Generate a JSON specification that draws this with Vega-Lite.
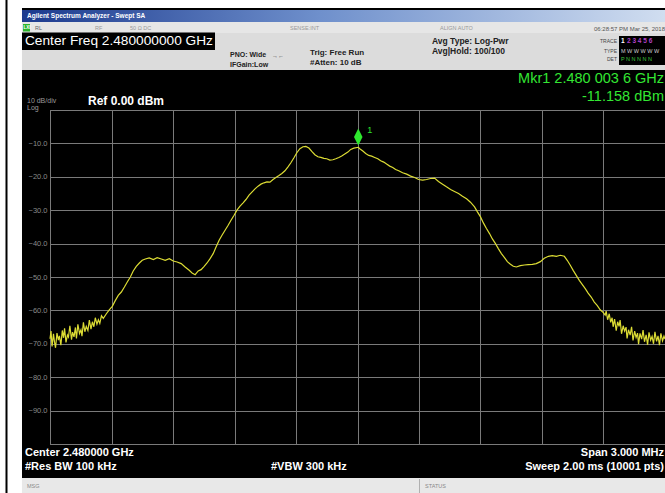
{
  "$schema": "https://vega.github.io/schema/vega-lite/v6.json",
  "width": 615,
  "height": 334,
  "autosize": {"type": "none"},
  "padding": {"left": 50, "top": 110, "right": 0, "bottom": 49},
  "background": "#000000",
  "config": {"view": {"stroke": "#8c8c8c", "strokeWidth": 1}, "font": "Liberation Sans"},
  "resolve": {"axis": {"x": "independent", "y": "independent"}},
  "datasets": {
    "trace": [
      {"f":2478.500,"dbm":-68.5},{"f":2478.505,"dbm":-66.2},{"f":2478.510,"dbm":-70.8},{"f":2478.517,"dbm":-67.0},{"f":2478.522,"dbm":-69.5},{"f":2478.527,"dbm":-71.2},{"f":2478.534,"dbm":-66.8},{"f":2478.541,"dbm":-68.9},{"f":2478.546,"dbm":-67.6},{"f":2478.553,"dbm":-70.4},{"f":2478.560,"dbm":-66.0},{"f":2478.566,"dbm":-68.2},{"f":2478.571,"dbm":-65.4},{"f":2478.578,"dbm":-69.6},{"f":2478.585,"dbm":-67.4},{"f":2478.590,"dbm":-68.0},{"f":2478.597,"dbm":-64.6},{"f":2478.605,"dbm":-68.8},{"f":2478.610,"dbm":-66.5},{"f":2478.617,"dbm":-67.9},{"f":2478.624,"dbm":-65.1},{"f":2478.629,"dbm":-68.4},{"f":2478.636,"dbm":-64.2},{"f":2478.644,"dbm":-66.9},{"f":2478.651,"dbm":-65.8},{"f":2478.656,"dbm":-67.7},{"f":2478.663,"dbm":-63.6},{"f":2478.670,"dbm":-66.4},{"f":2478.677,"dbm":-64.8},{"f":2478.685,"dbm":-66.0},{"f":2478.692,"dbm":-62.9},{"f":2478.700,"dbm":-65.6},{"f":2478.707,"dbm":-63.4},{"f":2478.714,"dbm":-64.9},{"f":2478.721,"dbm":-62.2},{"f":2478.729,"dbm":-64.1},{"f":2478.736,"dbm":-62.8},{"f":2478.743,"dbm":-63.9},{"f":2478.751,"dbm":-61.6},{"f":2478.760,"dbm":-62.4},{"f":2478.775,"dbm":-61.0},{"f":2478.790,"dbm":-59.8},{"f":2478.804,"dbm":-58.8},{"f":2478.819,"dbm":-57.0},{"f":2478.833,"dbm":-55.5},{"f":2478.848,"dbm":-54.5},{"f":2478.863,"dbm":-53.0},{"f":2478.877,"dbm":-51.5},{"f":2478.892,"dbm":-50.0},{"f":2478.906,"dbm":-48.2},{"f":2478.921,"dbm":-46.8},{"f":2478.936,"dbm":-45.8},{"f":2478.950,"dbm":-45.0},{"f":2478.965,"dbm":-44.6},{"f":2478.984,"dbm":-44.3},{"f":2479.004,"dbm":-44.8},{"f":2479.023,"dbm":-44.2},{"f":2479.043,"dbm":-44.6},{"f":2479.062,"dbm":-45.0},{"f":2479.082,"dbm":-44.5},{"f":2479.101,"dbm":-45.2},{"f":2479.120,"dbm":-45.5},{"f":2479.140,"dbm":-46.0},{"f":2479.159,"dbm":-47.0},{"f":2479.179,"dbm":-48.0},{"f":2479.193,"dbm":-48.8},{"f":2479.208,"dbm":-49.3},{"f":2479.223,"dbm":-48.2},{"f":2479.237,"dbm":-47.8},{"f":2479.252,"dbm":-46.8},{"f":2479.266,"dbm":-45.8},{"f":2479.281,"dbm":-44.5},{"f":2479.296,"dbm":-43.0},{"f":2479.310,"dbm":-41.0},{"f":2479.325,"dbm":-39.0},{"f":2479.339,"dbm":-37.5},{"f":2479.354,"dbm":-36.0},{"f":2479.369,"dbm":-34.5},{"f":2479.383,"dbm":-33.0},{"f":2479.398,"dbm":-31.5},{"f":2479.412,"dbm":-30.0},{"f":2479.427,"dbm":-28.8},{"f":2479.442,"dbm":-27.8},{"f":2479.456,"dbm":-26.8},{"f":2479.471,"dbm":-25.5},{"f":2479.485,"dbm":-24.6},{"f":2479.500,"dbm":-23.6},{"f":2479.515,"dbm":-22.8},{"f":2479.529,"dbm":-22.2},{"f":2479.544,"dbm":-21.8},{"f":2479.558,"dbm":-21.5},{"f":2479.573,"dbm":-21.6},{"f":2479.588,"dbm":-20.8},{"f":2479.602,"dbm":-20.2},{"f":2479.617,"dbm":-19.6},{"f":2479.631,"dbm":-19.0},{"f":2479.646,"dbm":-18.2},{"f":2479.661,"dbm":-17.0},{"f":2479.675,"dbm":-15.8},{"f":2479.690,"dbm":-14.3},{"f":2479.704,"dbm":-12.8},{"f":2479.719,"dbm":-11.6},{"f":2479.734,"dbm":-11.0},{"f":2479.748,"dbm":-10.9},{"f":2479.763,"dbm":-11.4},{"f":2479.777,"dbm":-12.4},{"f":2479.792,"dbm":-13.4},{"f":2479.807,"dbm":-14.0},{"f":2479.821,"dbm":-14.2},{"f":2479.836,"dbm":-14.5},{"f":2479.850,"dbm":-14.6},{"f":2479.865,"dbm":-15.0},{"f":2479.880,"dbm":-14.9},{"f":2479.894,"dbm":-14.6},{"f":2479.909,"dbm":-14.2},{"f":2479.923,"dbm":-13.8},{"f":2479.938,"dbm":-13.2},{"f":2479.953,"dbm":-12.6},{"f":2479.967,"dbm":-11.8},{"f":2479.982,"dbm":-11.4},{"f":2480.004,"dbm":-11.16},{"f":2480.011,"dbm":-11.6},{"f":2480.026,"dbm":-12.3},{"f":2480.040,"dbm":-13.0},{"f":2480.055,"dbm":-13.6},{"f":2480.069,"dbm":-13.8},{"f":2480.084,"dbm":-14.2},{"f":2480.099,"dbm":-14.6},{"f":2480.113,"dbm":-15.2},{"f":2480.128,"dbm":-15.6},{"f":2480.142,"dbm":-16.2},{"f":2480.157,"dbm":-16.8},{"f":2480.172,"dbm":-17.2},{"f":2480.186,"dbm":-17.8},{"f":2480.201,"dbm":-18.2},{"f":2480.220,"dbm":-18.8},{"f":2480.240,"dbm":-19.2},{"f":2480.259,"dbm":-19.8},{"f":2480.279,"dbm":-20.2},{"f":2480.298,"dbm":-20.8},{"f":2480.318,"dbm":-21.0},{"f":2480.337,"dbm":-20.8},{"f":2480.356,"dbm":-20.5},{"f":2480.376,"dbm":-20.4},{"f":2480.395,"dbm":-21.4},{"f":2480.415,"dbm":-22.2},{"f":2480.434,"dbm":-23.0},{"f":2480.454,"dbm":-23.8},{"f":2480.473,"dbm":-24.4},{"f":2480.493,"dbm":-25.0},{"f":2480.512,"dbm":-25.8},{"f":2480.532,"dbm":-26.6},{"f":2480.551,"dbm":-27.6},{"f":2480.571,"dbm":-29.0},{"f":2480.585,"dbm":-30.5},{"f":2480.600,"dbm":-32.0},{"f":2480.614,"dbm":-33.8},{"f":2480.629,"dbm":-35.5},{"f":2480.644,"dbm":-37.0},{"f":2480.658,"dbm":-38.6},{"f":2480.673,"dbm":-40.0},{"f":2480.687,"dbm":-41.5},{"f":2480.702,"dbm":-43.0},{"f":2480.717,"dbm":-44.2},{"f":2480.731,"dbm":-45.4},{"f":2480.746,"dbm":-46.2},{"f":2480.760,"dbm":-46.8},{"f":2480.775,"dbm":-47.0},{"f":2480.794,"dbm":-46.6},{"f":2480.814,"dbm":-46.4},{"f":2480.833,"dbm":-46.3},{"f":2480.853,"dbm":-46.2},{"f":2480.872,"dbm":-46.0},{"f":2480.892,"dbm":-45.4},{"f":2480.911,"dbm":-44.4},{"f":2480.931,"dbm":-43.8},{"f":2480.950,"dbm":-43.6},{"f":2480.970,"dbm":-43.8},{"f":2480.989,"dbm":-43.5},{"f":2481.009,"dbm":-43.8},{"f":2481.023,"dbm":-45.0},{"f":2481.038,"dbm":-46.5},{"f":2481.052,"dbm":-48.0},{"f":2481.067,"dbm":-49.5},{"f":2481.082,"dbm":-51.0},{"f":2481.096,"dbm":-52.2},{"f":2481.111,"dbm":-53.5},{"f":2481.125,"dbm":-54.8},{"f":2481.140,"dbm":-56.0},{"f":2481.155,"dbm":-57.5},{"f":2481.169,"dbm":-58.5},{"f":2481.184,"dbm":-59.8},{"f":2481.198,"dbm":-60.6},{"f":2481.208,"dbm":-61.4},{"f":2481.213,"dbm":-60.2},{"f":2481.220,"dbm":-62.8},{"f":2481.228,"dbm":-61.0},{"f":2481.235,"dbm":-63.6},{"f":2481.242,"dbm":-62.2},{"f":2481.247,"dbm":-64.9},{"f":2481.254,"dbm":-62.6},{"f":2481.262,"dbm":-66.1},{"f":2481.269,"dbm":-63.4},{"f":2481.276,"dbm":-64.8},{"f":2481.281,"dbm":-62.9},{"f":2481.288,"dbm":-67.0},{"f":2481.296,"dbm":-64.6},{"f":2481.303,"dbm":-66.2},{"f":2481.310,"dbm":-65.0},{"f":2481.315,"dbm":-68.4},{"f":2481.322,"dbm":-65.8},{"f":2481.330,"dbm":-67.4},{"f":2481.337,"dbm":-64.9},{"f":2481.344,"dbm":-69.0},{"f":2481.352,"dbm":-66.2},{"f":2481.359,"dbm":-68.1},{"f":2481.366,"dbm":-66.8},{"f":2481.371,"dbm":-70.1},{"f":2481.378,"dbm":-66.9},{"f":2481.386,"dbm":-68.6},{"f":2481.393,"dbm":-65.9},{"f":2481.400,"dbm":-69.4},{"f":2481.408,"dbm":-67.3},{"f":2481.415,"dbm":-70.3},{"f":2481.422,"dbm":-66.6},{"f":2481.430,"dbm":-68.9},{"f":2481.437,"dbm":-67.8},{"f":2481.444,"dbm":-70.0},{"f":2481.451,"dbm":-66.4},{"f":2481.459,"dbm":-69.3},{"f":2481.466,"dbm":-67.6},{"f":2481.473,"dbm":-70.4},{"f":2481.480,"dbm":-66.9},{"f":2481.488,"dbm":-69.1},{"f":2481.495,"dbm":-67.7},{"f":2481.500,"dbm":-68.6}
    ],
    "marker": [{"f": 2480.0036, "dbm": -11.158, "label": "1"}]
  },
  "layer": [
    {
      "data": {"name": "trace"},
      "mark": {"type": "line", "color": "#dcdc34", "strokeWidth": 1.2, "interpolate": "linear"},
      "encoding": {
        "x": {"field": "f", "type": "quantitative",
              "scale": {"domain": [2478.5, 2481.5], "nice": false, "zero": false},
              "axis": {"values": [2478.5, 2478.8, 2479.1, 2479.4, 2479.7, 2480.0, 2480.3, 2480.6, 2480.9, 2481.2, 2481.5],
                       "grid": true, "gridColor": "#7a7a7a", "gridWidth": 1, "gridOpacity": 1,
                       "labels": false, "ticks": false, "domain": false, "title": null}},
        "y": {"field": "dbm", "type": "quantitative",
              "scale": {"domain": [-100, 0], "nice": false, "zero": false},
              "axis": {"values": [-100, -90, -80, -70, -60, -50, -40, -30, -20, -10, 0],
                       "grid": true, "gridColor": "#7a7a7a", "gridWidth": 1, "gridOpacity": 1,
                       "ticks": false, "domain": false, "title": null,
                       "labelExpr": "datum.value == 0 || datum.value == -100 ? '' : format(datum.value, '.1f')",
                       "labelColor": "#8a8a8a", "labelFontSize": 7.5, "labelFont": "Liberation Sans", "labelPadding": 3}}
      }
    },
    {
      "data": {"name": "marker"},
      "layer": [
        {"mark": {"type": "point", "shape": "M0,-2.2L0.5,-1.2L0,-0.2L-0.5,-1.2Z", "size": 289, "filled": true, "color": "#2ee82e", "opacity": 1},
         "encoding": {"x": {"field": "f", "type": "quantitative", "axis": null}, "y": {"field": "dbm", "type": "quantitative", "axis": null}}},
        {"mark": {"type": "text", "color": "#2ee82e", "fontSize": 9, "dx": 9, "dy": -17, "align": "left", "baseline": "middle", "font": "Liberation Sans"},
         "encoding": {"x": {"field": "f", "type": "quantitative", "axis": null}, "y": {"field": "dbm", "type": "quantitative", "axis": null}, "text": {"field": "label"}}}
      ]
    },
    {
      "data": {"values": [{}]},
      "layer": [
        {"mark": {"type": "rect", "color": "#ffffff"},
         "encoding": {"x": {"datum": 2478.20, "type": "quantitative", "axis": null}, "x2": {"datum": 2481.6},
                      "y": {"datum": 35, "type": "quantitative", "axis": null}, "y2": {"datum": 30.54}}},
        {"mark": {"type": "rect", "color": "#ffffff"},
         "encoding": {"x": {"datum": 2478.20, "type": "quantitative", "axis": null}, "x2": {"datum": 2478.3634},
                      "y": {"datum": 35, "type": "quantitative", "axis": null}, "y2": {"datum": -120}}},
        {"mark": {"type": "rect", "color": "#000000"},
         "encoding": {"x": {"datum": 2478.2829, "type": "quantitative", "axis": null}, "x2": {"datum": 2478.2927},
                      "y": {"datum": 35, "type": "quantitative", "axis": null}, "y2": {"datum": -120}}},
        {"mark": {"type": "rect", "color": "#000000"},
         "encoding": {"x": {"datum": 2478.3634, "type": "quantitative", "axis": null}, "x2": {"datum": 2481.6},
                      "y": {"datum": 30.54, "type": "quantitative", "axis": null}, "y2": {"datum": 29.94}}},
        {"mark": {"type": "rect", "color": {"gradient": "linear", "x1": 0, "y1": 0, "x2": 1, "y2": 0,
                   "stops": [{"offset": 0, "color": "#1c3a8e"}, {"offset": 0.45, "color": "#6f90cc"}, {"offset": 1, "color": "#d6e2f2"}]}},
         "encoding": {"x": {"datum": 2478.3634, "type": "quantitative", "axis": null}, "x2": {"datum": 2481.6},
                      "y": {"datum": 29.94, "type": "quantitative", "axis": null}, "y2": {"datum": 26.35}}},
        {"mark": {"type": "rect", "color": "#e6e6e6"},
         "encoding": {"x": {"datum": 2478.3634, "type": "quantitative", "axis": null}, "x2": {"datum": 2481.6},
                      "y": {"datum": 26.35, "type": "quantitative", "axis": null}, "y2": {"datum": 23.05}}},
        {"mark": {"type": "rect", "color": "#dcdcdc"},
         "encoding": {"x": {"datum": 2478.3634, "type": "quantitative", "axis": null}, "x2": {"datum": 2481.6},
                      "y": {"datum": 23.05, "type": "quantitative", "axis": null}, "y2": {"datum": 11.98}}},
        {"mark": {"type": "rect", "color": "#000000"},
         "encoding": {"x": {"datum": 2478.3634, "type": "quantitative", "axis": null}, "x2": {"datum": 2479.3049},
                      "y": {"datum": 23.2, "type": "quantitative", "axis": null}, "y2": {"datum": 17.96}}},
        {"mark": {"type": "rect", "color": "#2db52d"},
         "encoding": {"x": {"datum": 2478.3683, "type": "quantitative", "axis": null}, "x2": {"datum": 2478.4024},
                      "y": {"datum": 25.75, "type": "quantitative", "axis": null}, "y2": {"datum": 23.5}}},
        {"mark": {"type": "rect", "color": "#000000"},
         "encoding": {"x": {"datum": 2481.2756, "type": "quantitative", "axis": null}, "x2": {"datum": 2481.6},
                      "y": {"datum": 22.16, "type": "quantitative", "axis": null}, "y2": {"datum": 13.47}}},
        {"mark": {"type": "rect", "color": "#e8e8e8"},
         "encoding": {"x": {"datum": 2478.3634, "type": "quantitative", "axis": null}, "x2": {"datum": 2481.6},
                      "y": {"datum": -110.18, "type": "quantitative", "axis": null}, "y2": {"datum": -120}}},
        {"mark": {"type": "rect", "color": "#b0b0b0"},
         "encoding": {"x": {"datum": 2480.3000, "type": "quantitative", "axis": null}, "x2": {"datum": 2480.3049},
                      "y": {"datum": -110.5, "type": "quantitative", "axis": null}, "y2": {"datum": -115}}},

        {"mark": {"type": "text", "text": "Agilent Spectrum Analyzer - Swept SA", "color": "#ffffff", "fontSize": 6.5, "fontWeight": "bold", "align": "left", "baseline": "middle"},
         "encoding": {"x": {"datum": 2478.3878, "type": "quantitative", "axis": null}, "y": {"datum": 28.14, "type": "quantitative", "axis": null}}},
        {"mark": {"type": "text", "text": "LXI", "color": "#ffffff", "fontSize": 4.5, "fontWeight": "bold", "align": "left", "baseline": "middle"},
         "encoding": {"x": {"datum": 2478.3707, "type": "quantitative", "axis": null}, "y": {"datum": 24.6, "type": "quantitative", "axis": null}}},
        {"mark": {"type": "text", "text": "RL", "color": "#666666", "fontSize": 5.5, "align": "left", "baseline": "middle"},
         "encoding": {"x": {"datum": 2478.4268, "type": "quantitative", "axis": null}, "y": {"datum": 24.55, "type": "quantitative", "axis": null}}},
        {"mark": {"type": "text", "text": "RF", "color": "#999999", "fontSize": 5.5, "align": "left", "baseline": "middle"},
         "encoding": {"x": {"datum": 2478.7195, "type": "quantitative", "axis": null}, "y": {"datum": 24.55, "type": "quantitative", "axis": null}}},
        {"mark": {"type": "text", "text": "50 Ω   DC", "color": "#999999", "fontSize": 5.5, "align": "left", "baseline": "middle"},
         "encoding": {"x": {"datum": 2478.8902, "type": "quantitative", "axis": null}, "y": {"datum": 24.55, "type": "quantitative", "axis": null}}},
        {"mark": {"type": "text", "text": "SENSE:INT", "color": "#999999", "fontSize": 5.5, "align": "left", "baseline": "middle"},
         "encoding": {"x": {"datum": 2479.6707, "type": "quantitative", "axis": null}, "y": {"datum": 24.55, "type": "quantitative", "axis": null}}},
        {"mark": {"type": "text", "text": "ALIGN AUTO", "color": "#999999", "fontSize": 5.5, "align": "left", "baseline": "middle"},
         "encoding": {"x": {"datum": 2480.4024, "type": "quantitative", "axis": null}, "y": {"datum": 24.55, "type": "quantitative", "axis": null}}},
        {"mark": {"type": "text", "text": "06:28:57 PM Mar 25, 2018", "color": "#555555", "fontSize": 6, "align": "right", "baseline": "middle"},
         "encoding": {"x": {"datum": 2481.5, "type": "quantitative", "axis": null}, "y": {"datum": 24.4, "type": "quantitative", "axis": null}}},

        {"mark": {"type": "text", "text": "Center Freq 2.480000000 GHz", "color": "#ffffff", "fontSize": 13.7, "align": "left", "baseline": "middle"},
         "encoding": {"x": {"datum": 2478.378, "type": "quantitative", "axis": null}, "y": {"datum": 20.51, "type": "quantitative", "axis": null}}},
        {"mark": {"type": "text", "text": "PNO: Wide", "color": "#222222", "fontSize": 7, "fontWeight": "bold", "align": "left", "baseline": "middle"},
         "encoding": {"x": {"datum": 2479.378, "type": "quantitative", "axis": null}, "y": {"datum": 16.32, "type": "quantitative", "axis": null}}},
        {"mark": {"type": "text", "text": "→←", "color": "#444444", "fontSize": 6, "align": "left", "baseline": "middle"},
         "encoding": {"x": {"datum": 2479.583, "type": "quantitative", "axis": null}, "y": {"datum": 16.17, "type": "quantitative", "axis": null}}},
        {"mark": {"type": "text", "text": "IFGain:Low", "color": "#222222", "fontSize": 7, "fontWeight": "bold", "align": "left", "baseline": "middle"},
         "encoding": {"x": {"datum": 2479.378, "type": "quantitative", "axis": null}, "y": {"datum": 13.62, "type": "quantitative", "axis": null}}},
        {"mark": {"type": "text", "text": "Trig: Free Run", "color": "#222222", "fontSize": 8, "fontWeight": "bold", "align": "left", "baseline": "middle"},
         "encoding": {"x": {"datum": 2479.768, "type": "quantitative", "axis": null}, "y": {"datum": 16.92, "type": "quantitative", "axis": null}}},
        {"mark": {"type": "text", "text": "#Atten: 10 dB", "color": "#222222", "fontSize": 8, "fontWeight": "bold", "align": "left", "baseline": "middle"},
         "encoding": {"x": {"datum": 2479.768, "type": "quantitative", "axis": null}, "y": {"datum": 14.07, "type": "quantitative", "axis": null}}},
        {"mark": {"type": "text", "text": "Avg Type: Log-Pwr", "color": "#222222", "fontSize": 8.5, "fontWeight": "bold", "align": "left", "baseline": "middle"},
         "encoding": {"x": {"datum": 2480.3634, "type": "quantitative", "axis": null}, "y": {"datum": 20.51, "type": "quantitative", "axis": null}}},
        {"mark": {"type": "text", "text": "Avg|Hold: 100/100", "color": "#222222", "fontSize": 8.5, "fontWeight": "bold", "align": "left", "baseline": "middle"},
         "encoding": {"x": {"datum": 2480.3634, "type": "quantitative", "axis": null}, "y": {"datum": 17.81, "type": "quantitative", "axis": null}}},
        {"mark": {"type": "text", "text": "TRACE", "color": "#444444", "fontSize": 5, "align": "right", "baseline": "middle"},
         "encoding": {"x": {"datum": 2481.2659, "type": "quantitative", "axis": null}, "y": {"datum": 20.66, "type": "quantitative", "axis": null}}},
        {"mark": {"type": "text", "text": "TYPE", "color": "#444444", "fontSize": 5, "align": "right", "baseline": "middle"},
         "encoding": {"x": {"datum": 2481.2659, "type": "quantitative", "axis": null}, "y": {"datum": 17.81, "type": "quantitative", "axis": null}}},
        {"mark": {"type": "text", "text": "DET", "color": "#444444", "fontSize": 5, "align": "right", "baseline": "middle"},
         "encoding": {"x": {"datum": 2481.2659, "type": "quantitative", "axis": null}, "y": {"datum": 15.12, "type": "quantitative", "axis": null}}},
        {"mark": {"type": "text", "text": "1", "color": "#ffffff", "fontSize": 6.5, "fontWeight": "bold", "align": "left", "baseline": "middle"},
         "encoding": {"x": {"datum": 2481.2854, "type": "quantitative", "axis": null}, "y": {"datum": 20.66, "type": "quantitative", "axis": null}}},
        {"mark": {"type": "text", "text": "2 3 4 5 6", "color": "#b040c8", "fontSize": 6.5, "fontWeight": "bold", "align": "left", "baseline": "middle"},
         "encoding": {"x": {"datum": 2481.3146, "type": "quantitative", "axis": null}, "y": {"datum": 20.66, "type": "quantitative", "axis": null}}},
        {"mark": {"type": "text", "text": "M W W W W W", "color": "#cfcfcf", "fontSize": 5.5, "align": "left", "baseline": "middle"},
         "encoding": {"x": {"datum": 2481.2854, "type": "quantitative", "axis": null}, "y": {"datum": 17.81, "type": "quantitative", "axis": null}}},
        {"mark": {"type": "text", "text": "P N N N N N", "color": "#3ec43e", "fontSize": 5.5, "align": "left", "baseline": "middle"},
         "encoding": {"x": {"datum": 2481.2854, "type": "quantitative", "axis": null}, "y": {"datum": 15.12, "type": "quantitative", "axis": null}}},

        {"mark": {"type": "text", "text": "Mkr1 2.480 003 6 GHz", "color": "#33e633", "fontSize": 14.5, "align": "right", "baseline": "middle"},
         "encoding": {"x": {"datum": 2481.4951, "type": "quantitative", "axis": null}, "y": {"datum": 9.28, "type": "quantitative", "axis": null}}},
        {"mark": {"type": "text", "text": "-11.158 dBm", "color": "#33e633", "fontSize": 14.5, "align": "right", "baseline": "middle"},
         "encoding": {"x": {"datum": 2481.4951, "type": "quantitative", "axis": null}, "y": {"datum": 4.04, "type": "quantitative", "axis": null}}},
        {"mark": {"type": "text", "text": "10 dB/div", "color": "#9a9a9a", "fontSize": 7, "align": "left", "baseline": "middle"},
         "encoding": {"x": {"datum": 2478.3878, "type": "quantitative", "axis": null}, "y": {"datum": 2.69, "type": "quantitative", "axis": null}}},
        {"mark": {"type": "text", "text": "Log", "color": "#9a9a9a", "fontSize": 7, "align": "left", "baseline": "middle"},
         "encoding": {"x": {"datum": 2478.3878, "type": "quantitative", "axis": null}, "y": {"datum": 0.6, "type": "quantitative", "axis": null}}},
        {"mark": {"type": "text", "text": "Ref 0.00 dBm", "color": "#ffffff", "fontSize": 12, "fontWeight": "bold", "align": "left", "baseline": "middle"},
         "encoding": {"x": {"datum": 2478.6854, "type": "quantitative", "axis": null}, "y": {"datum": 2.69, "type": "quantitative", "axis": null}}},

        {"mark": {"type": "text", "text": "Center 2.480000 GHz", "color": "#ffffff", "fontSize": 11, "fontWeight": "bold", "align": "left", "baseline": "middle"},
         "encoding": {"x": {"datum": 2478.378, "type": "quantitative", "axis": null}, "y": {"datum": -102.69, "type": "quantitative", "axis": null}}},
        {"mark": {"type": "text", "text": "#Res BW 100 kHz", "color": "#ffffff", "fontSize": 11, "fontWeight": "bold", "align": "left", "baseline": "middle"},
         "encoding": {"x": {"datum": 2478.378, "type": "quantitative", "axis": null}, "y": {"datum": -106.89, "type": "quantitative", "axis": null}}},
        {"mark": {"type": "text", "text": "#VBW 300 kHz", "color": "#ffffff", "fontSize": 11, "fontWeight": "bold", "align": "left", "baseline": "middle"},
         "encoding": {"x": {"datum": 2479.578, "type": "quantitative", "axis": null}, "y": {"datum": -106.89, "type": "quantitative", "axis": null}}},
        {"mark": {"type": "text", "text": "Span 3.000 MHz", "color": "#ffffff", "fontSize": 11, "fontWeight": "bold", "align": "right", "baseline": "middle"},
         "encoding": {"x": {"datum": 2481.4951, "type": "quantitative", "axis": null}, "y": {"datum": -102.69, "type": "quantitative", "axis": null}}},
        {"mark": {"type": "text", "text": "Sweep  2.00 ms (10001 pts)", "color": "#ffffff", "fontSize": 11, "fontWeight": "bold", "align": "right", "baseline": "middle"},
         "encoding": {"x": {"datum": 2481.4951, "type": "quantitative", "axis": null}, "y": {"datum": -106.89, "type": "quantitative", "axis": null}}},
        {"mark": {"type": "text", "text": "MSG", "color": "#888888", "fontSize": 5.5, "align": "left", "baseline": "middle"},
         "encoding": {"x": {"datum": 2478.3878, "type": "quantitative", "axis": null}, "y": {"datum": -112.57, "type": "quantitative", "axis": null}}},
        {"mark": {"type": "text", "text": "STATUS", "color": "#888888", "fontSize": 5.5, "align": "left", "baseline": "middle"},
         "encoding": {"x": {"datum": 2480.3293, "type": "quantitative", "axis": null}, "y": {"datum": -112.57, "type": "quantitative", "axis": null}}}
      ]
    }
  ]
}
